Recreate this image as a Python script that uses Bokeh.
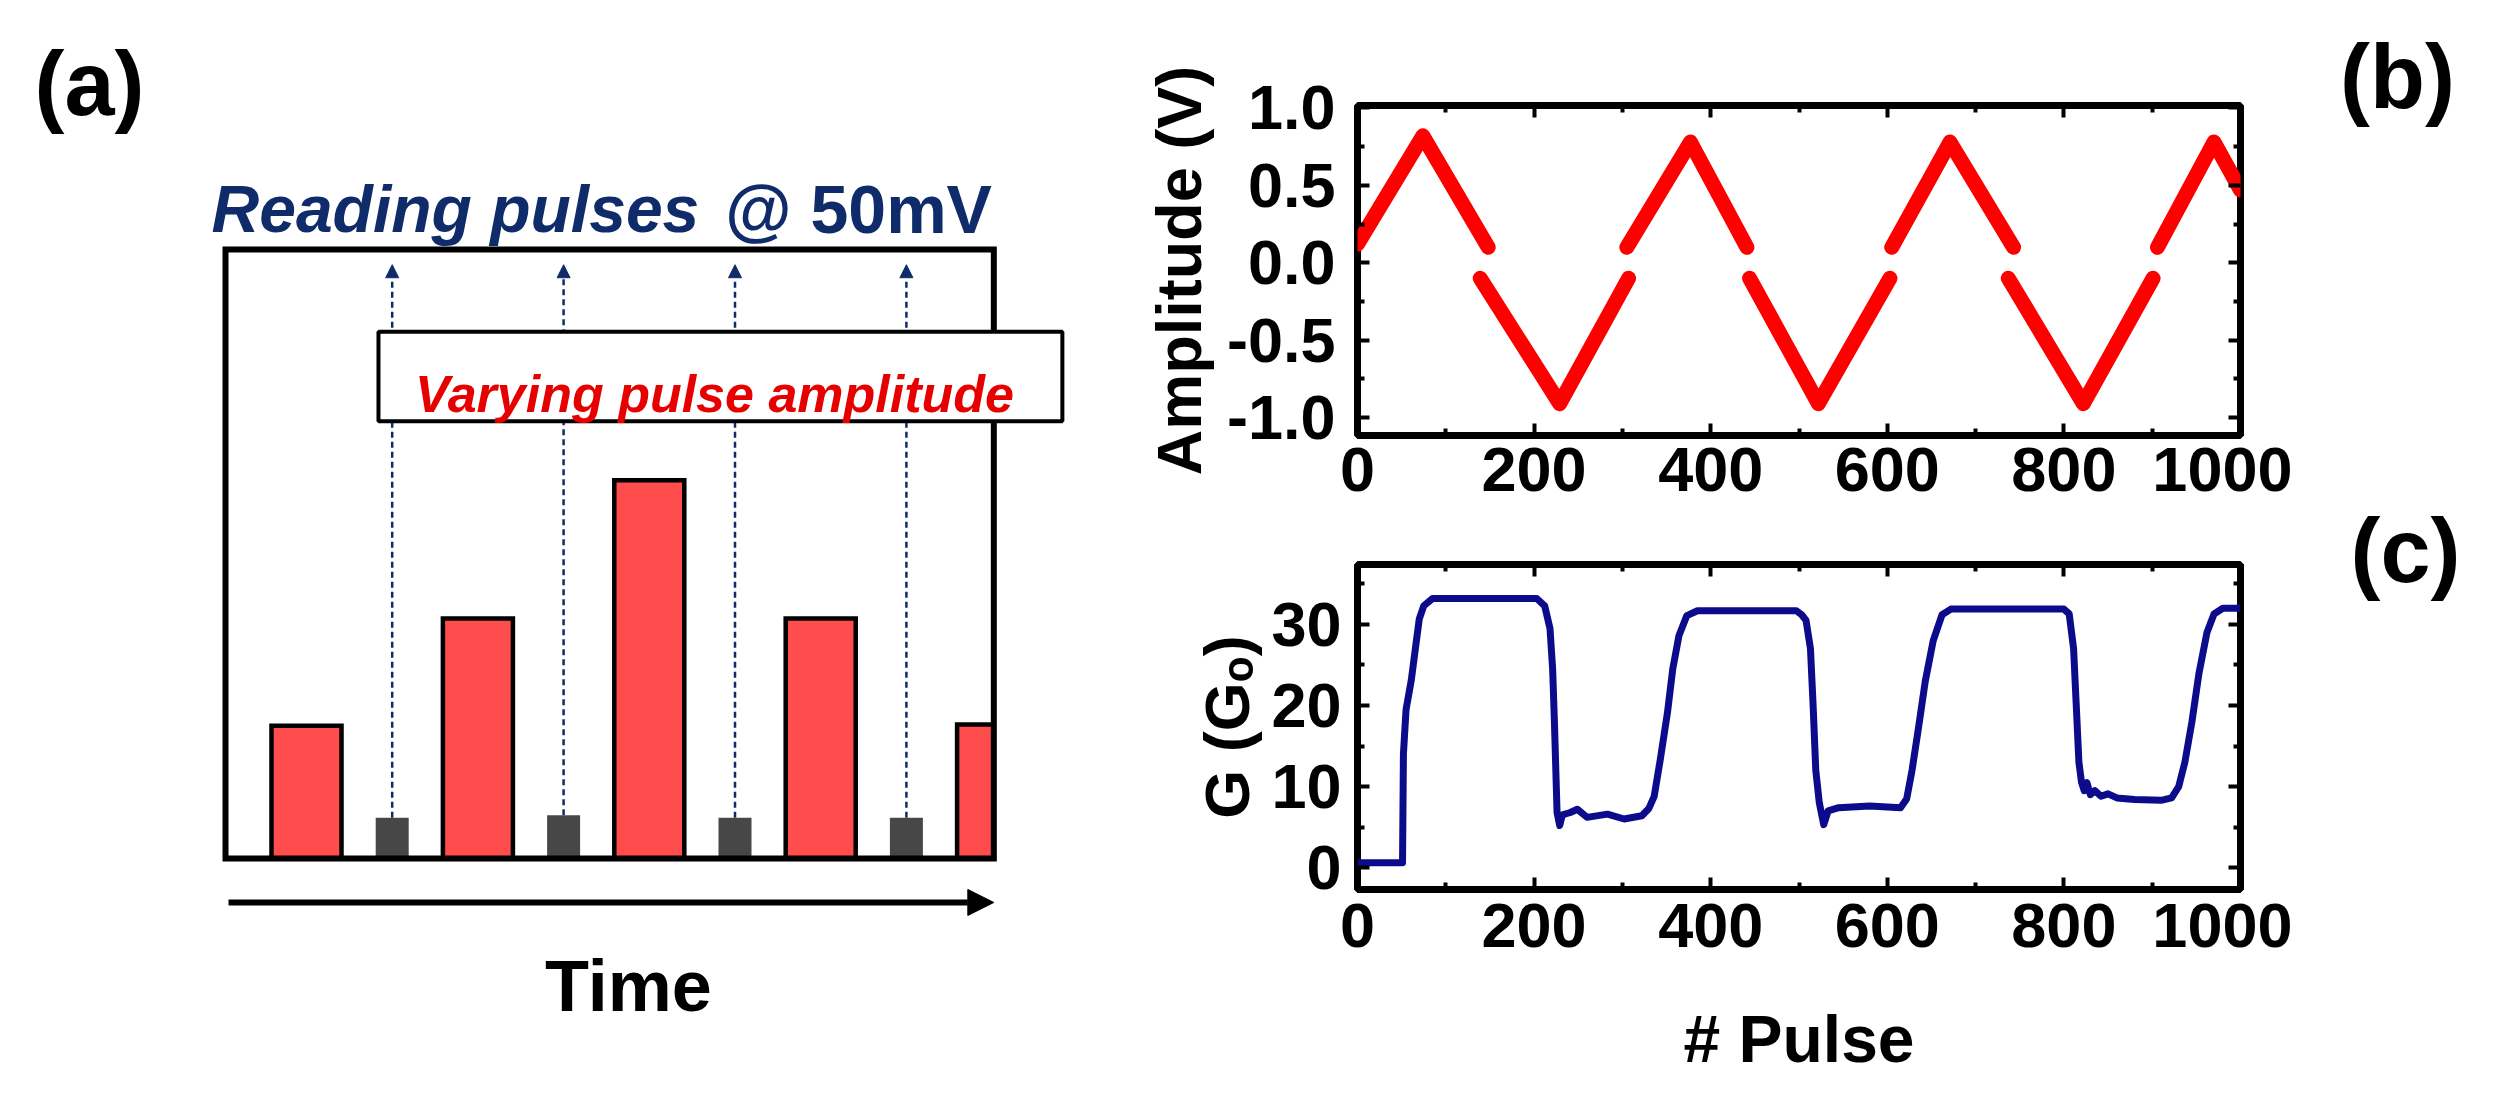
from bokeh.plotting import figure
from bokeh.models import Range1d, LinearAxis, FixedTicker, Arrow, NormalHead, ColumnDataSource
from bokeh.layouts import row, column
from bokeh.embed import file_html
from bokeh.resources import INLINE
from bokeh.core.properties import value

FONT = "Liberation Sans"

# ---------------- data ----------------
# (a) schematic: write pulses (relative amplitude) and read pulses, per time slot
write_slots = [1, 3, 5, 7, 9]
write_amp = [0.218, 0.394, 0.621, 0.394, 0.220]
read_slots = [2, 4, 6, 8]
read_amp = [0.067, 0.071, 0.067, 0.067]

# (b) pulse amplitude (V) vs pulse number: vertices of each ramp segment
b_seg_x = [[0, 74, 148], [139, 229, 307], [305, 377, 441], [444, 522, 603],
           [605, 671, 743], [737, 822, 901], [906, 970, 1000]]
b_seg_y = [[0.12, 0.82, 0.10], [-0.10, -0.91, -0.10], [0.10, 0.78, 0.10], [-0.10, -0.91, -0.10],
           [0.10, 0.78, 0.10], [-0.10, -0.91, -0.10], [0.10, 0.78, 0.47]]

# (c) conductance G (G0) vs pulse number
c_x = [0, 51, 52, 55, 61, 66, 70, 75, 85, 203,
       212, 218, 221, 223, 226, 229, 232, 241, 249, 260,
       283, 302, 322, 330, 336, 343, 351, 357, 364, 373,
       385, 497, 503, 508, 513, 516, 519, 523, 528, 533,
       545, 580, 615, 622, 628, 635, 643, 652, 662, 672,
       800, 806, 811, 814, 817, 820, 823, 826, 830, 835,
       842, 850, 860, 880, 910, 922, 930, 937, 945, 953,
       962, 970, 980, 1000]
c_y = [0.6, 0.6, 14, 19.5, 23.2, 27.4, 30.7, 32.3, 33.2, 33.2,
       32.3, 29.5, 24.5, 18, 6.8, 5.2, 6.5, 6.8, 7.2, 6.2,
       6.6, 6.0, 6.4, 7.3, 8.8, 13.4, 19.1, 24.5, 28.6, 31.1,
       31.7, 31.7, 31.2, 30.5, 27, 20, 12, 8, 5.3, 7.0,
       7.4, 7.6, 7.4, 8.5, 12, 17, 23, 28, 31.2, 31.9,
       31.9, 31.3, 27, 20, 13, 10.5, 9.5, 10.5, 9, 9.5,
       8.8, 9.1, 8.6, 8.4, 8.3, 8.6, 10, 13, 18, 24,
       29, 31.3, 32, 32]

x_ticks = [0, 200, 400, 600, 800, 1000]
x_minor = [100, 300, 500, 700, 900]
b_yticks = [-1.0, -0.5, 0.0, 0.5, 1.0]
b_ytick_labels = ["-1.0", "-0.5", "0.0", "0.5", "1.0"]
b_yminor = [-0.75, -0.25, 0.25, 0.75]
c_yticks = [0, 10, 20, 30]
c_yminor = [5, 15, 25, 35]

panel_labels = ["(b)", "(c)"]

NAVY = "#102b6a"
RED_TXT = "#e60000"
BAR_RED = "#ff4d4d"
GRAY = "#474747"

# ---------------- panel (a) ----------------
T0, TS = 228.3, 85.7      # page px of t=0, px per slot
A0, AS = 866.0, 609.0     # page px of a=0, px per amplitude unit
fa = figure(width=1140, height=1102, x_axis_type=None, y_axis_type=None,
            x_range=Range1d((8 - T0) / TS, (1148 - T0) / TS),
            y_range=Range1d((A0 - 1110) / AS, (A0 - 8) / AS),
            toolbar_location=None, output_backend="svg",
            min_border=0, outline_line_color=None)
fa.grid.visible = False
box_l, box_r = 0.055, 9.02
bw, rw = 0.817, 0.385

# dashed read arrows (underneath)
arr_src = ColumnDataSource(dict(x0=read_slots, y0=read_amp, x1=read_slots, y1=[0.975] * len(read_slots)))
arr = Arrow(x_start="x0", y_start="y0", x_end="x1", y_end="y1", source=arr_src,
            line_color=NAVY, line_width=2.5, line_dash="6 4",
            end=NormalHead(size=13, fill_color=NAVY, line_color=NAVY, line_width=1))
arr.level = "underlay"
fa.add_layout(arr)

# red write pulses
wl = [s - bw / 2 for s in write_slots]
wr = [min(s + bw / 2, box_r) for s in write_slots]
fa.quad(left=wl, right=wr, bottom=0, top=write_amp, fill_color=BAR_RED,
        line_color="black", line_width=4.5, line_join="miter")
# gray read pulses
fa.quad(left=[s - rw / 2 for s in read_slots], right=[s + rw / 2 for s in read_slots],
        bottom=0, top=read_amp, fill_color=GRAY, line_color=None)
# big frame
fa.quad(left=[box_l], right=[box_r], bottom=[0], top=[1.0], fill_color=None,
        line_color="black", line_width=6, line_join="miter")
# white annotation box
fa.quad(left=[1.84], right=[9.82], bottom=[0.718], top=[0.865], fill_color="white",
        line_color="black", line_width=4)
fa.text(x=[5.76], y=[0.762], text=["Varying pulse amplitude"], text_color=RED_TXT,
        text_font=value(FONT), text_font_style="bold italic", text_font_size="52px",
        text_align="center", text_baseline="alphabetic")
fa.text(x=[-0.108], y=[1.066], text=["Reading pulses"], text_color=NAVY,
        text_font=value(FONT), text_font_style="bold italic", text_font_size="66px",
        text_align="left", text_baseline="alphabetic")
fa.text(x=[5.887], y=[1.066], text=["@ 50mV"], text_color=NAVY,
        text_font=value(FONT), text_font_style="bold", text_font_size="68px",
        text_align="left", text_baseline="alphabetic")
# time arrow
fa.add_layout(Arrow(x_start=0.09, y_start=-0.0722, x_end=9.02, y_end=-0.0722,
                    line_color="black", line_width=6,
                    end=NormalHead(size=26, fill_color="black", line_color="black")))
fa.text(x=[4.757], y=[-0.21], text=["Time"], text_color="black",
        text_font=value(FONT), text_font_style="bold", text_font_size="72px",
        text_align="center", text_baseline="alphabetic")
fa.text(x=[-1.532], y=[1.271], text=["(a)"], text_color="black",
        text_font=value(FONT), text_font_style="bold", text_font_size="90px",
        text_align="center", text_baseline="middle")


# ---------------- helpers ----------------
def make_axes_plot(height, y_range, yticks, yminor, border_top, border_bottom, ylabels=None):
    p = figure(width=1152, height=height, x_range=Range1d(0, 1000), y_range=y_range,
               toolbar_location=None, output_backend="svg",
               min_border_left=215, min_border_right=52,
               min_border_top=border_top, min_border_bottom=border_bottom)
    xt = FixedTicker(ticks=x_ticks, minor_ticks=x_minor)
    yt = FixedTicker(ticks=yticks, minor_ticks=yminor)
    p.grid.visible = False
    p.outline_line_color = "black"
    p.outline_line_width = 7
    bottom_ax = p.below[0]
    left_ax = p.left[0]
    bottom_ax.ticker = xt
    left_ax.ticker = yt
    top_ax = LinearAxis(ticker=xt)
    right_ax = LinearAxis(ticker=yt)
    p.add_layout(top_ax, "above")
    p.add_layout(right_ax, "right")
    for ax in [bottom_ax, left_ax, top_ax, right_ax]:
        ax.axis_line_color = None
        ax.major_tick_in = 12
        ax.major_tick_out = 0
        ax.minor_tick_in = 7
        ax.minor_tick_out = 0
        ax.major_tick_line_width = 4
        ax.minor_tick_line_width = 4
        ax.major_tick_line_color = "black"
        ax.minor_tick_line_color = "black"
        ax.major_label_text_font = FONT
        ax.major_label_text_font_style = "bold"
        ax.major_label_text_font_size = "63px"
        ax.major_label_text_color = "black"
        ax.axis_label_text_font = FONT
        ax.axis_label_text_font_style = "bold"
        ax.axis_label_text_color = "black"
        ax.axis_label_text_font_size = "63px"
    for ax in [top_ax, right_ax]:
        ax.major_label_text_font_size = "2px"
        ax.major_label_text_color = None
        ax.major_label_standoff = 0
    left_ax.major_label_standoff = 22
    if ylabels is not None:
        left_ax.major_label_overrides = {float(k): v for k, v in zip(yticks, ylabels)}
    return p, bottom_ax, left_ax


# ---------------- panel (b) ----------------
fb, fb_x, fb_y = make_axes_plot(530, Range1d(-1.116, 1.016), b_yticks, b_yminor, 105, 95, b_ytick_labels)
fb_x.major_label_standoff = 12
fb_y.axis_label = "Amplitude (V)"
fb_y.axis_label_standoff = 10
fb.multi_line(xs=b_seg_x, ys=b_seg_y, line_color="#ff0000", line_width=15,
              line_cap="round", line_join="round")

# ---------------- panel (c) ----------------
fc, fc_x, fc_y = make_axes_plot(572, Range1d(-2.7, 37.4), c_yticks, c_yminor, 34, 213)
fc_x.major_label_standoff = 14
fc_y.major_label_standoff = 16
fc_y.axis_label = "G (G\u2092)"
fc_y.axis_label_standoff = 6
fc_x.axis_label = "# Pulse"
fc_x.axis_label_text_font_size = "66px"
fc_x.axis_label_standoff = 52
fc.line(x=c_x, y=c_y, line_color="#0b0b8c", line_width=7, line_join="round")

# ---------------- panel labels (b), (c) ----------------
fr = figure(width=193, height=1102, x_axis_type=None, y_axis_type=None,
            x_range=Range1d(0, 193), y_range=Range1d(1102, 0),
            toolbar_location=None, output_backend="svg",
            min_border=0, outline_line_color=None)
fr.grid.visible = False
fr.text(x=[105, 113], y=[76, 550], text=panel_labels, text_color="black",
        text_font=value(FONT), text_font_style="bold", text_font_size="90px",
        text_align="center", text_baseline="middle")

layout = row(fa, column(fb, fc, spacing=0), fr, spacing=0)
open("out.html", "w").write(file_html(layout, INLINE))
